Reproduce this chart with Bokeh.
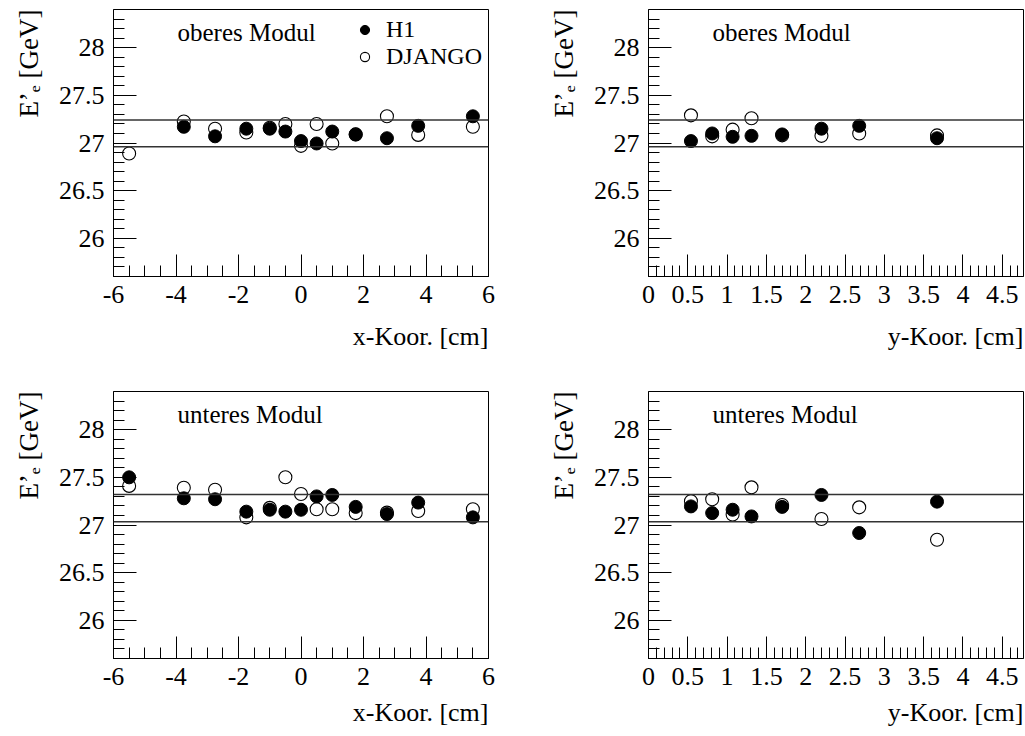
import numpy as np
from bokeh.plotting import figure
from bokeh.models import (Span, Label, Legend, LegendItem, FixedTicker, Range1d, Title,
                          CustomJSTickFormatter)
from bokeh.layouts import column, row
from bokeh.embed import file_html
from bokeh.resources import INLINE

nan = float("nan")

# scan positions
x_pos = [-5.5, -3.75, -2.75, -1.75, -1.0, -0.5, 0.0, 0.5, 1.0, 1.75, 2.75, 3.75, 5.5]
y_pos = [0.54, 0.81, 1.07, 1.31, 1.70, 2.20, 2.68, 3.67]

# oberes Modul
ob_x_h1 = [nan, 27.17, 27.07, 27.15, 27.15, 27.12, 27.02, 26.995, 27.12, 27.09, 27.05, 27.18, 27.28]
ob_x_dj = [26.89, 27.225, 27.15, 27.11, 27.16, 27.20, 26.97, 27.20, 26.995, 27.09, 27.28, 27.085, 27.17]
ob_y_h1 = [27.02, 27.10, 27.065, 27.075, 27.09, 27.15, 27.18, 27.05]
ob_y_dj = [27.29, 27.07, 27.14, 27.26, 27.08, 27.075, 27.10, 27.08]
# unteres Modul
un_x_h1 = [27.50, 27.28, 27.27, 27.14, 27.16, 27.14, 27.16, 27.30, 27.315, 27.19, 27.115, 27.235, 27.08]
un_x_dj = [27.41, 27.39, 27.37, 27.08, 27.18, 27.50, 27.325, 27.165, 27.165, 27.125, 27.13, 27.147, 27.165]
un_y_h1 = [27.195, 27.125, 27.16, 27.09, 27.19, 27.315, 26.916, 27.245]
un_y_dj = [27.25, 27.27, 27.11, 27.395, 27.21, 27.063, 27.185, 26.846]

# band lines
ob_lines = [26.96, 27.24]
un_lines = [27.035, 27.32]

# axes
y_range = (25.6, 28.4)
y_ticks = [26, 26.5, 27, 27.5, 28]
y_tick_labels = ["26", "26.5", "27", "27.5", "28"]
y_minor = [round(v, 1) for v in np.arange(25.7, 28.35, 0.1)]

x1_range = (-6, 6)
x1_ticks = [-6, -4, -2, 0, 2, 4, 6]
x1_tick_labels = ["-6", "-4", "-2", "0", "2", "4", "6"]
x1_minor = [round(v, 2) for v in np.arange(-6, 6.01, 0.5)]

x2_range = (0, 4.77)
x2_ticks = [0, 0.5, 1, 1.5, 2, 2.5, 3, 3.5, 4, 4.5]
x2_tick_labels = ["0", "0.5", "1", "1.5", "2", "2.5", "3", "3.5", "4", "4.5"]
x2_minor = [round(v, 1) for v in np.arange(0, 4.75, 0.1)]

FONT = "Liberation Serif"


def style_axis(ax, ticks, labels, minor, maj_len, min_len):
    ax.ticker = FixedTicker(ticks=ticks, minor_ticks=minor)
    ax.formatter = CustomJSTickFormatter(
        args=dict(vals=list(ticks), labs=list(labels)),
        code="const i = vals.findIndex(v => Math.abs(v - tick) < 1e-9); return i >= 0 ? labs[i] : String(tick);")
    ax.major_tick_in = maj_len
    ax.major_tick_out = 0
    ax.minor_tick_in = min_len
    ax.minor_tick_out = 0
    ax.axis_line_color = "black"
    ax.major_tick_line_color = "black"
    ax.minor_tick_line_color = "black"
    ax.major_label_text_font = FONT
    ax.major_label_text_font_size = "26px"
    ax.major_label_text_font_style = "normal"
    ax.major_label_text_color = "black"
    ax.major_label_standoff = 9


def make_panel(xs, h1, dj, lines, text, xr, xt, xtl, xmin, xlabel, w, h, bl, br, bt, bb,
               xl_standoff, legend=False):
    p = figure(width=w, height=h, x_range=Range1d(*xr), y_range=Range1d(*y_range),
               output_backend="svg", toolbar_location=None, tools="",
               min_border_left=bl, min_border_right=br, min_border_top=bt, min_border_bottom=bb)
    p.xgrid.visible = False
    p.ygrid.visible = False
    p.outline_line_color = "black"
    p.outline_line_width = 1
    p.background_fill_color = "white"
    p.border_fill_color = "white"
    style_axis(p.xaxis[0], xt, xtl, xmin, 22, 11)
    style_axis(p.yaxis[0], y_ticks, y_tick_labels, y_minor, 23, 11)
    # small spacer so the y title sits a little further out
    p.yaxis[0].axis_label = " "
    p.yaxis[0].axis_label_text_font_size = "1px"
    p.yaxis[0].axis_label_standoff = 5

    for v in lines:
        p.add_layout(Span(location=v, dimension="width", line_color="#333333", line_width=1.5))

    r_dj = p.scatter(xs, dj, size=13, marker="circle", fill_alpha=0, line_color="black", line_width=1.1)
    r_h1 = p.scatter(xs, h1, size=13, marker="circle", fill_color="black", line_color="black", line_width=1)

    p.add_layout(Label(x=64, y=244, x_units="screen", y_units="screen", text=text,
                       text_font=FONT, text_font_size="25px", text_align="left",
                       text_baseline="alphabetic", text_color="black"))
    # axis titles
    p.add_layout(Title(text=xlabel, align="right", text_font=FONT, text_font_size="26px",
                       text_font_style="normal", text_color="black", standoff=xl_standoff), "below")
    p.add_layout(Title(text="E\u2019\u2091 [GeV]", align="right", text_font=FONT, text_font_size="27px",
                       text_font_style="normal", text_color="black", standoff=5), "left")

    if legend:
        leg = Legend(items=[LegendItem(label="H1", renderers=[r_h1]),
                            LegendItem(label="DJANGO", renderers=[r_dj])],
                     location=(240, 206), padding=0, margin=0, spacing=0,
                     glyph_width=23, glyph_height=23, label_standoff=10,
                     label_text_font=FONT, label_text_font_size="24px", label_text_color="black",
                     border_line_alpha=0, background_fill_alpha=0)
        p.add_layout(leg)
    return p


p1 = make_panel(x_pos, ob_x_h1, ob_x_dj, ob_lines, "oberes Modul", x1_range, x1_ticks, x1_tick_labels,
                x1_minor, "x-Koor. [cm]", 512, 368, 113, 24, 9, 92, 29, legend=True)
p2 = make_panel(y_pos, ob_y_h1, ob_y_dj, ob_lines, "oberes Modul", x2_range, x2_ticks, x2_tick_labels,
                x2_minor, "y-Koor. [cm]", 512, 368, 136, 1, 9, 92, 29)
p3 = make_panel(x_pos, un_x_h1, un_x_dj, un_lines, "unteres Modul", x1_range, x1_ticks, x1_tick_labels,
                x1_minor, "x-Koor. [cm]", 512, 368, 113, 24, 23, 78, 17)
p4 = make_panel(y_pos, un_y_h1, un_y_dj, un_lines, "unteres Modul", x2_range, x2_ticks, x2_tick_labels,
                x2_minor, "y-Koor. [cm]", 512, 368, 136, 1, 23, 78, 17)

layout = column(row(p1, p2), row(p3, p4))
open("out.html", "w").write(file_html(layout, INLINE))
